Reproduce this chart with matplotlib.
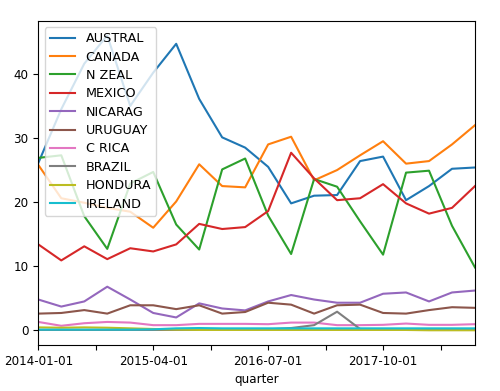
import matplotlib
matplotlib.use("Agg")
import matplotlib.pyplot as plt
import numpy as np

quarters = ["2014-01-01", "2014-04-01", "2014-07-01", "2014-10-01",
            "2015-01-01", "2015-04-01", "2015-07-01", "2015-10-01",
            "2016-01-01", "2016-04-01", "2016-07-01", "2016-10-01",
            "2017-01-01", "2017-04-01", "2017-07-01", "2017-10-01",
            "2018-01-01", "2018-04-01", "2018-07-01", "2018-10-01"]

austral = [26.1, 34.5, 41.6, 46.0, 35.0, 40.2, 44.7, 36.1, 30.1, 28.5,
           25.5, 19.8, 21.0, 21.1, 26.4, 27.1, 20.3, 22.5, 25.2, 25.4]
canada = [25.8, 20.6, 19.9, 19.1, 18.5, 16.0, 20.1, 25.9, 22.5, 22.3,
          29.0, 30.2, 23.4, 25.0, 27.3, 29.5, 26.0, 26.4, 29.0, 32.0]
nzeal = [26.9, 27.3, 17.8, 12.7, 22.9, 24.7, 16.5, 12.6, 25.1, 26.8,
         17.9, 11.9, 23.6, 22.4, 17.0, 11.8, 24.6, 24.9, 16.3, 9.8]
mexico = [13.4, 10.9, 13.1, 11.1, 12.8, 12.3, 13.4, 16.6, 15.8, 16.1,
          18.6, 27.7, 23.7, 20.3, 20.6, 22.8, 19.8, 18.2, 19.1, 22.5]
nicarag = [4.8, 3.7, 4.5, 6.8, 4.8, 2.7, 2.0, 4.2, 3.4, 3.1,
           4.5, 5.5, 4.8, 4.3, 4.3, 5.7, 5.9, 4.5, 5.9, 6.2]
uruguay = [2.6, 2.7, 3.15, 2.6, 3.9, 3.9, 3.3, 3.9, 2.6, 2.85,
           4.3, 4.0, 2.6, 3.9, 4.0, 2.7, 2.6, 3.15, 3.6, 3.5]
crica = [1.3, 0.7, 1.1, 1.3, 1.2, 0.8, 0.8, 1.0, 1.0, 1.0,
         0.95, 1.2, 1.2, 0.8, 0.8, 0.85, 1.05, 0.85, 0.85, 0.95]
brazil = [0.05, 0.05, 0.05, 0.05, 0.05, 0.05, 0.05, 0.05, 0.1, 0.1,
          0.15, 0.35, 0.8, 2.9, 0.2, 0.05, 0.05, 0.05, 0.05, 0.05]
hondura = [0.45, 0.4, 0.45, 0.4, 0.3, 0.2, 0.1, 0.05, 0.05, 0.05,
           0.05, 0.05, 0.05, 0.05, 0.05, 0.05, 0.05, 0.0, 0.0, 0.0]
ireland = [0.1, 0.1, 0.1, 0.1, 0.1, 0.15, 0.3, 0.35, 0.3, 0.3,
           0.3, 0.3, 0.3, 0.3, 0.3, 0.3, 0.3, 0.3, 0.3, 0.3]

series = [("AUSTRAL", austral), ("CANADA", canada), ("N ZEAL", nzeal),
          ("MEXICO", mexico), ("NICARAG", nicarag), ("URUGUAY", uruguay),
          ("C RICA", crica), ("BRAZIL", brazil), ("HONDURA", hondura),
          ("IRELAND", ireland)]

fs = 8.6
fig = plt.figure(figsize=(5.0, 3.91), dpi=100)
ax = fig.add_axes([0.0766, 0.1176, 0.8734, 0.8294])
x = np.arange(len(quarters))
for name, vals in series:
    ax.plot(x, vals, label=name)

ax.set_xlim(0, len(quarters) - 1)
ticks = np.arange(0, len(quarters), 2.5)
labels = [quarters[int(t)] if float(t).is_integer() and int(t) % 5 == 0 else "" for t in ticks]
ax.set_xticks(ticks)
ax.set_xticklabels(labels, fontsize=fs)
ax.set_yticks([0, 10, 20, 30, 40])
ax.tick_params(axis="y", labelsize=fs)
ax.set_xlabel("quarter", fontsize=fs)
ax.legend(loc="upper left", fontsize=9.2, labelspacing=0.42)

fig.savefig("out.png", dpi=100)
